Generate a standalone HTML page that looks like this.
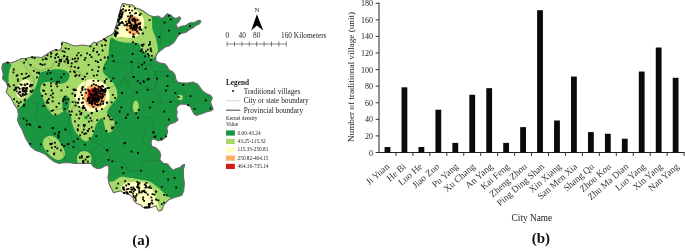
<!DOCTYPE html><html><head><meta charset="utf-8"><style>
html,body{margin:0;padding:0;background:#fff}
#w{position:relative;width:685px;height:251px;overflow:hidden;background:#fff;font-family:"Liberation Serif",serif;color:#222}
.t,.yl,.cl{filter:grayscale(1)}
.t{position:absolute;white-space:nowrap;line-height:1}
.yl{position:absolute;font-size:8px;line-height:1;width:20px;text-align:right;left:353.1px}
.cl{position:absolute;font-size:9.4px;line-height:1;white-space:nowrap;transform-origin:100% 50%;transform:rotate(-41deg);text-align:right;color:#333}
</style></head><body><div id="w">
<svg width="685" height="251" viewBox="0 0 685 251" style="position:absolute;left:0;top:0">
<defs><clipPath id="c"><path d="M2.6,63.9 L7.0,62.1 L10.5,63.0 L15.8,61.3 L21.0,58.6 L26.3,58.4 L31.6,56.7 L36.8,57.0 L42.0,57.5 L45.6,55.0 L51.0,51.4 L56.0,49.6 L58.8,50.5 L61.4,48.8 L61.8,42.1 L65.8,42.6 L70.0,44.4 L75.0,46.0 L82.5,45.0 L90.0,46.0 L93.7,42.1 L96.3,43.0 L99.0,41.8 L103.3,39.5 L107.7,36.5 L111.2,35.0 L113.9,32.5 L115.3,28.0 L117.0,22.8 L118.2,17.5 L120.0,12.3 L120.9,7.0 L122.6,3.2 L127.9,4.4 L132.3,4.9 L135.8,7.9 L140.2,9.2 L145.0,12.3 L149.6,15.6 L154.0,16.7 L158.4,16.1 L161.9,18.4 L164.6,16.7 L167.2,13.7 L170.7,14.9 L173.3,17.5 L176.0,18.4 L179.5,16.7 L180.7,18.4 L178.6,21.9 L176.0,24.6 L177.7,28.1 L181.2,26.3 L185.6,25.4 L190.0,22.8 L194.4,22.5 L198.8,20.2 L201.0,21.0 L199.6,23.7 L196.1,25.4 L192.6,28.0 L189.1,29.8 L185.6,32.5 L182.1,33.3 L179.5,34.2 L176.8,37.7 L174.2,42.1 L172.5,43.5 L168.9,46.1 L165.4,47.0 L161.9,49.6 L157.5,53.2 L155.8,56.7 L155.8,61.0 L159.3,62.8 L164.6,63.7 L167.2,66.3 L168.9,69.8 L172.5,71.6 L175.1,75.1 L176.0,79.5 L177.7,82.1 L181.6,82.7 L187.7,83.0 L193.0,82.1 L197.4,83.9 L200.0,87.4 L202.6,90.9 L206.1,93.5 L210.5,95.3 L212.3,97.9 L210.5,102.3 L212.3,106.7 L213.2,109.3 L210.5,111.1 L206.1,112.0 L201.8,113.7 L196.5,115.5 L193.9,113.7 L192.1,110.2 L190.4,106.7 L187.7,105.0 L184.2,104.1 L180.7,104.1 L178.1,105.8 L176.3,108.5 L177.2,112.0 L176.5,116.4 L178.2,119.9 L174.7,122.5 L169.5,124.3 L166.8,127.8 L167.7,132.2 L166.0,136.6 L162.5,140.0 L158.1,140.9 L154.6,139.2 L151.9,139.2 L151.1,142.7 L151.9,146.2 L156.3,148.0 L159.8,151.5 L160.7,155.3 L159.8,159.6 L163.3,163.2 L167.7,164.0 L170.4,167.5 L173.0,170.2 L176.5,168.4 L180.0,167.5 L182.6,164.9 L184.7,164.4 L183.5,169.3 L183.5,176.3 L184.4,183.3 L183.7,190.9 L181.9,195.3 L177.5,196.7 L173.2,197.9 L168.8,199.7 L166.1,202.3 L163.5,205.8 L161.8,210.2 L159.1,211.1 L157.4,209.3 L156.5,205.8 L153.0,206.7 L147.7,208.5 L143.3,207.6 L140.7,204.9 L136.3,203.2 L133.7,200.6 L132.8,197.1 L129.3,194.4 L124.9,193.5 L120.5,190.9 L117.0,191.8 L113.5,192.7 L111.8,189.2 L110.5,187.2 L108.8,182.8 L107.9,177.6 L108.8,172.3 L108.8,166.2 L106.1,165.3 L101.8,167.9 L97.4,168.8 L93.9,167.1 L91.2,163.5 L86.0,163.2 L80.7,163.5 L74.6,163.5 L69.3,162.7 L64.0,162.7 L58.8,163.5 L54.4,161.8 L50.0,158.5 L45.6,154.6 L40.4,152.0 L35.1,150.2 L30.7,146.7 L28.1,142.3 L25.4,137.9 L23.7,133.5 L21.9,129.2 L19.3,124.8 L17.5,120.4 L18.4,114.6 L17.5,109.3 L14.0,104.1 L11.4,98.8 L8.8,95.5 L6.1,92.0 L7.9,86.7 L6.1,82.3 L2.6,78.8 L3.2,73.5 L1.8,68.3Z"/></clipPath></defs>
<g clip-path="url(#c)">
<rect x="0" y="0" width="230" height="215" fill="#1a9641"/>
<path d="M-5.0,40.0 C5.8,26.7 40.8,33.3 60.0,30.0 C79.2,26.7 100.3,25.0 110.0,20.0 C119.7,15.0 113.8,3.8 118.0,0.0 C122.2,-3.8 129.7,-5.0 135.0,-3.0 C140.3,-1.0 147.1,6.6 150.0,12.0 C152.9,17.4 151.7,25.4 152.6,29.5 C153.5,33.6 154.6,34.2 155.3,36.5 C156.0,38.8 156.6,41.1 157.0,43.5 C157.4,45.9 158.1,48.7 157.9,50.6 C157.8,52.5 157.0,53.7 156.1,55.0 C155.2,56.3 153.6,58.2 152.6,58.5 C151.6,58.8 151.3,57.7 150.0,56.7 C148.7,55.7 146.2,53.6 144.7,52.3 C143.2,51.0 142.1,50.2 141.2,48.8 C140.3,47.4 140.5,45.0 139.5,44.0 C138.5,43.0 137.2,42.9 135.0,42.7 C132.8,42.5 129.2,43.0 126.3,42.7 C123.4,42.4 120.0,41.8 117.5,41.0 C115.0,40.2 112.4,36.7 111.0,38.0 C109.6,39.3 109.5,45.6 109.0,48.8 C108.5,52.0 108.8,54.3 108.0,57.0 C107.2,59.7 104.8,62.3 104.0,64.8 C103.2,67.3 102.4,69.8 103.0,71.8 C103.6,73.8 105.8,75.2 107.4,77.0 C109.0,78.8 111.1,80.2 112.6,82.3 C114.1,84.3 115.8,86.8 116.5,89.3 C117.2,91.8 117.6,95.2 117.0,97.5 C116.4,99.8 114.3,101.2 113.0,103.0 C111.7,104.8 110.0,106.3 109.0,108.0 C108.0,109.7 106.8,111.7 107.0,113.0 C107.2,114.3 108.8,114.7 110.0,116.0 C111.2,117.3 113.3,119.0 114.0,121.0 C114.7,123.0 114.7,126.1 114.0,128.0 C113.3,129.9 111.3,132.0 110.0,132.5 C108.7,133.0 106.9,132.2 106.0,131.0 C105.1,129.8 105.0,127.1 104.4,125.0 C103.8,122.9 103.3,119.4 102.6,118.4 C101.9,117.5 101.1,118.3 100.0,119.3 C98.9,120.3 96.9,123.0 96.0,124.6 C95.1,126.2 95.2,127.4 94.7,129.0 C94.2,130.6 93.9,132.4 93.0,134.2 C92.1,135.9 90.8,138.3 89.5,139.5 C88.2,140.7 86.5,141.5 85.0,141.2 C83.5,140.9 82.3,139.3 80.7,137.7 C79.1,136.1 76.9,134.1 75.4,131.6 C74.0,129.1 72.9,125.7 72.0,122.8 C71.1,119.9 71.7,115.8 70.2,114.0 C68.7,112.2 65.5,111.8 63.2,112.0 C60.9,112.2 58.2,115.2 56.1,115.5 C54.0,115.8 52.8,114.3 50.9,113.7 C49.0,113.1 48.5,112.3 45.0,112.0 C41.5,111.7 35.8,112.0 30.0,112.0 C24.2,112.0 15.8,112.3 10.0,112.0 C4.2,111.7 -2.5,122.0 -5.0,110.0 C-7.5,98.0 -15.8,53.3 -5.0,40.0Z" fill="#a6d96a"/>
<path d="M40.2,72.7 C41.5,71.5 43.8,71.5 46.3,70.9 C48.8,70.3 52.0,69.4 55.0,69.2 C58.0,69.0 61.6,69.3 64.0,70.0 C66.3,70.7 68.2,72.2 69.1,73.5 C69.9,74.8 69.7,76.5 69.1,78.0 C68.5,79.5 67.3,81.3 65.6,82.3 C63.8,83.3 60.9,84.0 58.6,84.0 C56.3,84.0 53.9,82.6 51.6,82.3 C49.3,82.0 46.4,81.7 44.6,82.3 C42.8,82.9 41.7,84.3 41.0,85.8 C40.3,87.2 40.2,89.7 40.2,91.0 C40.2,92.3 40.6,91.9 41.2,93.5 C41.8,95.1 42.9,98.1 43.9,100.6 C44.9,103.1 46.2,106.3 47.4,108.5 C48.6,110.7 51.3,111.0 50.9,113.7 C50.5,116.5 51.8,123.1 45.0,125.0 C38.2,126.9 15.2,127.8 10.0,125.0 C4.8,122.2 12.8,110.6 14.0,108.0 C15.2,105.4 15.4,110.5 17.5,109.3 C19.6,108.1 23.8,103.2 26.3,100.6 C28.8,98.0 30.8,96.3 32.5,93.5 C34.2,90.7 35.7,86.6 36.7,84.0 C37.7,81.4 37.9,79.9 38.5,78.0 C39.1,76.1 38.9,73.9 40.2,72.7Z" fill="#1a9641"/>
<path d="M66.0,95.3 C66.9,95.5 68.2,96.5 68.8,98.0 C69.3,99.5 69.4,102.0 69.3,104.0 C69.2,106.0 68.9,108.5 68.0,110.0 C67.1,111.5 64.9,113.3 64.0,113.0 C63.1,112.7 62.8,110.2 62.5,108.0 C62.2,105.8 62.1,101.9 62.3,100.0 C62.5,98.1 62.9,97.3 63.5,96.5 C64.1,95.7 65.1,95.0 66.0,95.3Z" fill="#1a9641"/>
<path d="M-2.0,60.0 C0.1,56.6 8.6,61.8 10.5,63.5 C12.4,65.2 9.8,67.9 9.5,70.0 C9.2,72.1 8.7,74.0 8.5,76.0 C8.3,78.0 8.9,80.7 8.5,82.0 C8.1,83.3 7.8,83.7 6.0,84.0 C4.2,84.3 -0.7,88.0 -2.0,84.0 C-3.3,80.0 -4.1,63.4 -2.0,60.0Z" fill="#1a9641"/>
<path d="M86.0,115.5 C86.7,115.5 88.0,116.8 88.0,117.5 C88.0,118.2 86.7,119.5 86.0,119.5 C85.3,119.5 84.0,118.2 84.0,117.5 C84.0,116.8 85.3,115.5 86.0,115.5Z" fill="#1a9641"/>
<path d="M113.5,181.3 C116.1,180.0 117.9,177.5 120.5,176.9 C123.1,176.3 126.1,177.4 129.3,177.8 C132.5,178.2 136.6,178.9 139.8,179.5 C143.0,180.1 146.0,180.3 148.6,181.3 C151.2,182.3 153.3,183.8 155.6,185.6 C157.9,187.3 160.6,190.0 162.6,191.8 C164.6,193.6 166.2,195.2 167.5,196.5 C168.8,197.8 170.8,196.4 170.5,199.5 C170.2,202.6 176.9,212.4 166.0,215.0 C155.1,217.6 115.2,220.0 105.0,215.0 C94.8,210.0 103.6,190.6 105.0,185.0 C106.4,179.4 110.9,182.7 113.5,181.3Z" fill="#a6d96a"/>
<path d="M122.4,185.6 C123.5,184.4 125.9,183.2 128.0,182.6 C130.1,182.0 132.3,181.9 135.0,181.9 C137.7,181.9 141.5,182.1 143.9,182.6 C146.3,183.1 147.9,183.3 149.5,184.8 C151.1,186.3 152.5,189.8 153.5,191.8 C154.5,193.8 154.9,195.2 155.6,197.0 C156.2,198.8 157.2,199.8 157.4,202.3 C157.6,204.8 161.6,210.4 157.0,212.0 C152.4,213.6 135.4,214.5 130.0,212.0 C124.6,209.5 126.0,200.7 124.5,197.0 C123.0,193.3 121.6,191.9 121.3,190.0 C121.0,188.1 121.3,186.8 122.4,185.6Z" fill="#ffffc0"/>
<path d="M43.5,140.0 C44.2,138.6 45.6,137.2 47.0,136.5 C48.4,135.8 50.3,135.6 52.0,136.0 C53.7,136.4 55.3,137.3 57.0,139.0 C58.7,140.7 60.7,143.7 62.0,146.0 C63.3,148.3 64.8,151.0 65.0,153.0 C65.2,155.0 64.2,156.8 63.0,158.0 C61.8,159.2 59.8,160.2 58.0,160.0 C56.2,159.8 54.0,158.5 52.0,157.0 C50.0,155.5 47.5,153.0 46.0,151.0 C44.5,149.0 43.4,146.8 43.0,145.0 C42.6,143.2 42.8,141.4 43.5,140.0Z" fill="#a6d96a"/>
<ellipse cx="84.2" cy="159" rx="7.3" ry="8" fill="#a6d96a"/>
<ellipse cx="135.8" cy="106.8" rx="3" ry="6.2" fill="#a6d96a"/>
<circle cx="180.2" cy="97.4" r="2.6" fill="#a6d96a"/>
<ellipse cx="23.3" cy="88.8" rx="6.3" ry="10.2" fill="#ffffc0" transform="rotate(25 23.3 88.8)"/>
<ellipse cx="92.5" cy="95.5" rx="17.2" ry="16.3" fill="#ffffc0"/>
<ellipse cx="94.8" cy="96.2" rx="11" ry="12" fill="#fdae61"/>
<ellipse cx="94.4" cy="95.3" rx="6.8" ry="7.6" fill="#d7191c"/>
<path d="M115.0,36.0 C114.1,33.5 115.8,26.7 116.5,22.0 C117.2,17.3 118.2,10.7 119.5,8.0 C120.8,5.3 122.2,6.1 124.0,5.8 C125.8,5.5 128.3,5.7 130.0,6.2 C131.7,6.7 132.7,7.4 134.3,8.6 C135.9,9.8 138.2,11.7 139.6,13.2 C141.0,14.7 142.2,15.9 143.0,17.5 C143.8,19.1 144.1,20.7 144.1,22.5 C144.1,24.3 143.6,26.7 143.0,28.5 C142.4,30.3 141.5,31.9 140.3,33.3 C139.1,34.7 137.7,36.0 135.8,36.8 C133.9,37.6 131.3,37.9 129.0,37.9 C126.7,37.9 124.3,37.1 122.0,36.8 C119.7,36.5 115.9,38.5 115.0,36.0Z" fill="#ffffc0"/>
<ellipse cx="133.4" cy="25.4" rx="7.9" ry="9.6" fill="#fdae61"/>
<path d="M110.0,87.6 L119.6,84.4 L124.4,76.4 L132.3,70.0" fill="none" stroke="#2c4a2c" stroke-opacity="0.6" stroke-width="0.45" stroke-linejoin="round"/>
<path d="M124.4,76.4 L129.2,87.6 L133.9,92.3 L132.3,100.3 L130.7,111.5 L124.4,117.9 L116.4,124.3 L110.0,125.9" fill="none" stroke="#2c4a2c" stroke-opacity="0.6" stroke-width="0.45" stroke-linejoin="round"/>
<path d="M133.9,92.3 L145.1,87.6 L154.7,89.2 L157.9,78.0 L154.7,70.0" fill="none" stroke="#2c4a2c" stroke-opacity="0.6" stroke-width="0.45" stroke-linejoin="round"/>
<path d="M154.7,89.2 L161.1,98.7 L159.5,101.9 L165.9,103.5 L173.8,100.3 L178.6,101.9 L177.0,109.9" fill="none" stroke="#2c4a2c" stroke-opacity="0.6" stroke-width="0.45" stroke-linejoin="round"/>
<path d="M157.9,78.0 L167.5,73.2 L177.0,84.4 L185.0,82.8 L191.4,86.0" fill="none" stroke="#2c4a2c" stroke-opacity="0.6" stroke-width="0.45" stroke-linejoin="round"/>
<path d="M132.3,111.5 L138.7,116.3 L151.5,117.9 L154.7,130.6 L151.5,138.6 L157.9,141.8" fill="none" stroke="#2c4a2c" stroke-opacity="0.6" stroke-width="0.45" stroke-linejoin="round"/>
<path d="M90.0,139.6 L99.6,144.4 L106.0,149.2 L112.3,160.3 L121.9,161.9 L129.9,171.5 L141.1,169.9 L145.9,160.3 L160.2,160.3 L173.0,169.9 L182.6,165.1" fill="none" stroke="#2c4a2c" stroke-opacity="0.6" stroke-width="0.45" stroke-linejoin="round"/>
<path d="M145.9,130.0 L142.7,139.6 L147.5,146.0 L158.6,149.2 L161.8,160.3" fill="none" stroke="#2c4a2c" stroke-opacity="0.6" stroke-width="0.45" stroke-linejoin="round"/>
<path d="M110.5,40.0 L111.4,48.8 L113.2,57.5 L114.9,61.9 L124.6,62.8 L133.3,61.9 L141.2,64.6 L150.9,65.4 L152.6,57.5 L156.1,53.2" fill="none" stroke="#2c4a2c" stroke-opacity="0.6" stroke-width="0.45" stroke-linejoin="round"/>
<path d="M133.3,61.9 L131.6,68.1 L132.5,75.1 L129.8,79.5 L122.8,83.0" fill="none" stroke="#2c4a2c" stroke-opacity="0.6" stroke-width="0.45" stroke-linejoin="round"/>
<path d="M150.9,65.4 L154.4,71.6 L156.1,77.7 L157.0,84.0" fill="none" stroke="#2c4a2c" stroke-opacity="0.6" stroke-width="0.45" stroke-linejoin="round"/>
<path d="M154.4,71.6 L164.9,71.6 L171.9,69.8 L175.4,75.1" fill="none" stroke="#2c4a2c" stroke-opacity="0.6" stroke-width="0.45" stroke-linejoin="round"/>
<path d="M113.2,57.5 L105.3,64.6 L103.5,68.9" fill="none" stroke="#2c4a2c" stroke-opacity="0.6" stroke-width="0.45" stroke-linejoin="round"/>
<path d="M162.8,17.5 L161.4,29.8 L160.2,44.0" fill="none" stroke="#2c4a2c" stroke-opacity="0.6" stroke-width="0.45" stroke-linejoin="round"/>
<path d="M27.5,100.4 L38.1,103.9 L47.7,106.5 L50.4,110.9 L62.6,108.3 L66.1,103.0 L73.2,101.3" fill="none" stroke="#2c4a2c" stroke-opacity="0.6" stroke-width="0.45" stroke-linejoin="round"/>
<path d="M26.3,58.4 L29.8,66.3 L40.4,70.7 L52.6,67.2 L57.9,50.5" fill="none" stroke="#2c4a2c" stroke-opacity="0.6" stroke-width="0.45" stroke-linejoin="round"/>
<path d="M61.5,56.0 L66.0,64.0 L72.0,70.0 L80.0,72.0 L86.0,80.0 L84.0,88.0" fill="none" stroke="#2c4a2c" stroke-opacity="0.6" stroke-width="0.45" stroke-linejoin="round"/>
<path d="M84.0,88.0 L78.0,100.0 L70.0,112.0 L68.0,125.0 L72.0,140.0 L80.0,150.0 L92.0,152.0 L99.6,144.4" fill="none" stroke="#2c4a2c" stroke-opacity="0.6" stroke-width="0.45" stroke-linejoin="round"/>
<path d="M38.0,103.9 L36.0,115.0 L40.0,128.0 L50.0,140.0 L62.0,150.0 L66.0,162.0" fill="none" stroke="#2c4a2c" stroke-opacity="0.6" stroke-width="0.45" stroke-linejoin="round"/>
<path d="M92.0,152.0 L95.0,160.0 L94.0,167.0" fill="none" stroke="#2c4a2c" stroke-opacity="0.6" stroke-width="0.45" stroke-linejoin="round"/>
<path d="M20.0,59.0 L26.0,68.0 L34.0,78.0 L33.0,90.0 L27.5,100.4" fill="none" stroke="#2c4a2c" stroke-opacity="0.6" stroke-width="0.45" stroke-linejoin="round"/>
</g>
<path d="M2.6,63.9 L7.0,62.1 L10.5,63.0 L15.8,61.3 L21.0,58.6 L26.3,58.4 L31.6,56.7 L36.8,57.0 L42.0,57.5 L45.6,55.0 L51.0,51.4 L56.0,49.6 L58.8,50.5 L61.4,48.8 L61.8,42.1 L65.8,42.6 L70.0,44.4 L75.0,46.0 L82.5,45.0 L90.0,46.0 L93.7,42.1 L96.3,43.0 L99.0,41.8 L103.3,39.5 L107.7,36.5 L111.2,35.0 L113.9,32.5 L115.3,28.0 L117.0,22.8 L118.2,17.5 L120.0,12.3 L120.9,7.0 L122.6,3.2 L127.9,4.4 L132.3,4.9 L135.8,7.9 L140.2,9.2 L145.0,12.3 L149.6,15.6 L154.0,16.7 L158.4,16.1 L161.9,18.4 L164.6,16.7 L167.2,13.7 L170.7,14.9 L173.3,17.5 L176.0,18.4 L179.5,16.7 L180.7,18.4 L178.6,21.9 L176.0,24.6 L177.7,28.1 L181.2,26.3 L185.6,25.4 L190.0,22.8 L194.4,22.5 L198.8,20.2 L201.0,21.0 L199.6,23.7 L196.1,25.4 L192.6,28.0 L189.1,29.8 L185.6,32.5 L182.1,33.3 L179.5,34.2 L176.8,37.7 L174.2,42.1 L172.5,43.5 L168.9,46.1 L165.4,47.0 L161.9,49.6 L157.5,53.2 L155.8,56.7 L155.8,61.0 L159.3,62.8 L164.6,63.7 L167.2,66.3 L168.9,69.8 L172.5,71.6 L175.1,75.1 L176.0,79.5 L177.7,82.1 L181.6,82.7 L187.7,83.0 L193.0,82.1 L197.4,83.9 L200.0,87.4 L202.6,90.9 L206.1,93.5 L210.5,95.3 L212.3,97.9 L210.5,102.3 L212.3,106.7 L213.2,109.3 L210.5,111.1 L206.1,112.0 L201.8,113.7 L196.5,115.5 L193.9,113.7 L192.1,110.2 L190.4,106.7 L187.7,105.0 L184.2,104.1 L180.7,104.1 L178.1,105.8 L176.3,108.5 L177.2,112.0 L176.5,116.4 L178.2,119.9 L174.7,122.5 L169.5,124.3 L166.8,127.8 L167.7,132.2 L166.0,136.6 L162.5,140.0 L158.1,140.9 L154.6,139.2 L151.9,139.2 L151.1,142.7 L151.9,146.2 L156.3,148.0 L159.8,151.5 L160.7,155.3 L159.8,159.6 L163.3,163.2 L167.7,164.0 L170.4,167.5 L173.0,170.2 L176.5,168.4 L180.0,167.5 L182.6,164.9 L184.7,164.4 L183.5,169.3 L183.5,176.3 L184.4,183.3 L183.7,190.9 L181.9,195.3 L177.5,196.7 L173.2,197.9 L168.8,199.7 L166.1,202.3 L163.5,205.8 L161.8,210.2 L159.1,211.1 L157.4,209.3 L156.5,205.8 L153.0,206.7 L147.7,208.5 L143.3,207.6 L140.7,204.9 L136.3,203.2 L133.7,200.6 L132.8,197.1 L129.3,194.4 L124.9,193.5 L120.5,190.9 L117.0,191.8 L113.5,192.7 L111.8,189.2 L110.5,187.2 L108.8,182.8 L107.9,177.6 L108.8,172.3 L108.8,166.2 L106.1,165.3 L101.8,167.9 L97.4,168.8 L93.9,167.1 L91.2,163.5 L86.0,163.2 L80.7,163.5 L74.6,163.5 L69.3,162.7 L64.0,162.7 L58.8,163.5 L54.4,161.8 L50.0,158.5 L45.6,154.6 L40.4,152.0 L35.1,150.2 L30.7,146.7 L28.1,142.3 L25.4,137.9 L23.7,133.5 L21.9,129.2 L19.3,124.8 L17.5,120.4 L18.4,114.6 L17.5,109.3 L14.0,104.1 L11.4,98.8 L8.8,95.5 L6.1,92.0 L7.9,86.7 L6.1,82.3 L2.6,78.8 L3.2,73.5 L1.8,68.3Z" fill="none" stroke="#6a6a6a" stroke-width="1.05" stroke-linejoin="round"/>
<path d="M89.8,94.3h1.8v1.8h-1.8zM93.8,87.9h1.8v1.8h-1.8zM95.1,92.3h1.8v1.8h-1.8zM89.5,102.0h1.8v1.8h-1.8zM88.4,101.7h1.8v1.8h-1.8zM98.1,98.2h1.8v1.8h-1.8zM87.6,98.5h1.8v1.8h-1.8zM102.3,95.6h1.8v1.8h-1.8zM96.0,91.9h1.8v1.8h-1.8zM99.1,86.0h1.8v1.8h-1.8zM96.2,100.1h1.8v1.8h-1.8zM92.0,100.4h1.8v1.8h-1.8zM96.7,90.6h1.8v1.8h-1.8zM92.2,89.6h1.8v1.8h-1.8zM97.8,90.3h1.8v1.8h-1.8zM94.0,98.1h1.8v1.8h-1.8zM93.2,93.3h1.8v1.8h-1.8zM102.2,90.5h1.8v1.8h-1.8zM92.9,99.3h1.8v1.8h-1.8zM100.0,96.8h1.8v1.8h-1.8zM97.2,88.3h1.8v1.8h-1.8zM97.3,97.7h1.8v1.8h-1.8zM90.7,100.2h1.8v1.8h-1.8zM90.8,103.7h1.8v1.8h-1.8zM100.5,90.0h1.8v1.8h-1.8zM99.6,85.9h1.8v1.8h-1.8zM99.7,91.4h1.8v1.8h-1.8zM96.6,92.3h1.8v1.8h-1.8zM97.2,95.9h1.8v1.8h-1.8zM91.4,103.6h1.8v1.8h-1.8zM98.5,86.6h1.8v1.8h-1.8zM95.9,97.5h1.8v1.8h-1.8zM88.5,102.2h1.8v1.8h-1.8zM87.9,98.6h1.8v1.8h-1.8zM98.0,99.1h1.8v1.8h-1.8zM89.2,101.1h1.8v1.8h-1.8zM100.5,96.4h1.8v1.8h-1.8zM104.2,91.5h1.8v1.8h-1.8zM91.8,97.3h1.8v1.8h-1.8zM97.7,99.8h1.8v1.8h-1.8zM88.5,97.6h1.8v1.8h-1.8zM91.8,98.7h1.8v1.8h-1.8zM94.8,90.5h1.8v1.8h-1.8zM94.6,97.0h1.8v1.8h-1.8zM104.5,87.7h1.8v1.8h-1.8zM97.3,94.8h1.8v1.8h-1.8zM94.0,87.3h1.8v1.8h-1.8zM104.6,89.4h1.8v1.8h-1.8zM104.4,89.9h1.8v1.8h-1.8zM93.3,95.2h1.8v1.8h-1.8zM91.4,102.2h1.8v1.8h-1.8zM88.2,96.4h1.8v1.8h-1.8zM89.1,93.2h1.8v1.8h-1.8zM88.7,100.0h1.8v1.8h-1.8zM94.1,89.2h1.8v1.8h-1.8zM90.7,97.2h1.8v1.8h-1.8zM90.1,93.4h1.8v1.8h-1.8zM95.2,94.6h1.8v1.8h-1.8zM91.2,94.9h1.8v1.8h-1.8zM97.4,85.5h1.8v1.8h-1.8zM92.8,90.7h1.8v1.8h-1.8zM91.8,89.4h1.8v1.8h-1.8zM101.1,97.6h1.8v1.8h-1.8zM103.2,89.3h1.8v1.8h-1.8zM91.0,97.2h1.8v1.8h-1.8zM93.7,102.3h1.8v1.8h-1.8zM99.2,95.8h1.8v1.8h-1.8zM90.6,94.8h1.8v1.8h-1.8zM104.2,90.4h1.8v1.8h-1.8zM103.0,90.5h1.8v1.8h-1.8zM92.1,99.1h1.8v1.8h-1.8zM89.1,92.7h1.8v1.8h-1.8zM94.3,100.0h1.8v1.8h-1.8zM102.1,85.6h1.8v1.8h-1.8zM101.2,84.9h1.8v1.8h-1.8zM89.1,96.8h1.8v1.8h-1.8zM88.5,97.0h1.8v1.8h-1.8zM101.7,95.2h1.8v1.8h-1.8zM100.7,87.9h1.8v1.8h-1.8zM101.2,93.9h1.8v1.8h-1.8zM91.4,102.8h1.8v1.8h-1.8zM104.8,89.2h1.8v1.8h-1.8zM99.4,89.5h1.8v1.8h-1.8zM94.1,102.2h1.8v1.8h-1.8zM91.6,100.6h1.8v1.8h-1.8zM100.0,92.8h1.8v1.8h-1.8zM86.7,99.9h1.8v1.8h-1.8zM95.2,90.9h1.8v1.8h-1.8zM97.4,95.4h1.8v1.8h-1.8zM102.3,89.0h1.8v1.8h-1.8zM100.7,100.3h1.8v1.8h-1.8zM102.1,92.8h1.8v1.8h-1.8zM92.3,98.2h1.8v1.8h-1.8zM96.1,94.2h1.8v1.8h-1.8zM102.0,92.4h1.8v1.8h-1.8zM85.3,91.9h1.8v1.8h-1.8zM87.3,97.3h1.8v1.8h-1.8zM97.0,90.8h1.8v1.8h-1.8zM95.6,97.3h1.8v1.8h-1.8zM96.0,99.6h1.8v1.8h-1.8zM95.3,98.3h1.8v1.8h-1.8zM102.3,100.8h1.8v1.8h-1.8zM92.6,97.6h1.8v1.8h-1.8zM87.2,88.7h1.8v1.8h-1.8zM86.8,98.4h1.8v1.8h-1.8zM90.1,93.5h1.8v1.8h-1.8zM94.7,93.5h1.8v1.8h-1.8zM92.9,94.7h1.8v1.8h-1.8zM103.7,93.8h1.8v1.8h-1.8zM98.0,98.1h1.8v1.8h-1.8zM94.7,87.9h1.8v1.8h-1.8zM93.1,98.4h1.8v1.8h-1.8zM73.0,89.1h1.8v1.8h-1.8zM102.2,103.0h1.8v1.8h-1.8zM91.2,103.2h1.8v1.8h-1.8zM92.9,83.3h1.8v1.8h-1.8zM73.9,88.7h1.8v1.8h-1.8zM101.3,89.4h1.8v1.8h-1.8zM81.2,87.4h1.8v1.8h-1.8zM74.3,93.9h1.8v1.8h-1.8zM78.1,98.7h1.8v1.8h-1.8zM65.1,98.4h1.8v1.8h-1.8zM84.0,75.7h1.8v1.8h-1.8zM99.1,92.3h1.8v1.8h-1.8zM66.6,86.3h1.8v1.8h-1.8zM94.3,90.5h1.8v1.8h-1.8zM99.7,102.6h1.8v1.8h-1.8zM98.4,98.4h1.8v1.8h-1.8zM105.8,101.7h1.8v1.8h-1.8zM96.1,74.3h1.8v1.8h-1.8zM101.0,108.2h1.8v1.8h-1.8zM87.8,90.4h1.8v1.8h-1.8zM112.4,77.5h1.8v1.8h-1.8zM96.3,119.3h1.8v1.8h-1.8zM80.9,102.0h1.8v1.8h-1.8zM111.9,93.9h1.8v1.8h-1.8zM97.3,104.1h1.8v1.8h-1.8zM81.1,94.2h1.8v1.8h-1.8zM94.3,103.4h1.8v1.8h-1.8zM90.7,93.1h1.8v1.8h-1.8zM79.9,91.5h1.8v1.8h-1.8zM100.9,96.1h1.8v1.8h-1.8zM81.7,86.7h1.8v1.8h-1.8zM120.4,106.5h1.8v1.8h-1.8zM135.2,12.2h1.8v1.8h-1.8zM135.1,26.3h1.8v1.8h-1.8zM139.0,26.1h1.8v1.8h-1.8zM132.7,26.5h1.8v1.8h-1.8zM125.9,28.9h1.8v1.8h-1.8zM134.1,20.9h1.8v1.8h-1.8zM137.7,32.4h1.8v1.8h-1.8zM127.9,21.0h1.8v1.8h-1.8zM133.9,24.9h1.8v1.8h-1.8zM131.5,19.6h1.8v1.8h-1.8zM140.5,28.9h1.8v1.8h-1.8zM128.6,17.9h1.8v1.8h-1.8zM139.0,28.7h1.8v1.8h-1.8zM139.5,27.8h1.8v1.8h-1.8zM129.8,25.3h1.8v1.8h-1.8zM125.1,20.7h1.8v1.8h-1.8zM132.7,26.5h1.8v1.8h-1.8zM130.3,23.5h1.8v1.8h-1.8zM134.6,25.8h1.8v1.8h-1.8zM135.2,25.1h1.8v1.8h-1.8zM131.7,27.7h1.8v1.8h-1.8zM133.1,20.3h1.8v1.8h-1.8zM130.6,24.1h1.8v1.8h-1.8zM132.5,24.8h1.8v1.8h-1.8zM132.9,24.9h1.8v1.8h-1.8zM132.4,18.3h1.8v1.8h-1.8zM134.4,28.9h1.8v1.8h-1.8zM134.5,23.2h1.8v1.8h-1.8zM134.5,19.7h1.8v1.8h-1.8zM126.1,24.4h1.8v1.8h-1.8zM129.6,27.5h1.8v1.8h-1.8zM129.0,12.0h1.8v1.8h-1.8zM129.2,31.4h1.8v1.8h-1.8zM131.5,17.8h1.8v1.8h-1.8zM130.2,26.5h1.8v1.8h-1.8zM134.7,24.9h1.8v1.8h-1.8zM138.2,27.3h1.8v1.8h-1.8zM132.8,26.8h1.8v1.8h-1.8zM138.9,28.6h1.8v1.8h-1.8zM136.6,19.1h1.8v1.8h-1.8zM132.4,27.5h1.8v1.8h-1.8zM131.8,29.0h1.8v1.8h-1.8zM135.0,28.3h1.8v1.8h-1.8zM132.1,35.8h1.8v1.8h-1.8zM137.4,23.1h1.8v1.8h-1.8zM133.2,36.0h1.8v1.8h-1.8zM131.7,28.1h1.8v1.8h-1.8zM136.4,24.1h1.8v1.8h-1.8zM128.7,25.0h1.8v1.8h-1.8zM134.2,29.3h1.8v1.8h-1.8zM135.7,24.2h1.8v1.8h-1.8zM136.0,26.6h1.8v1.8h-1.8zM133.6,24.4h1.8v1.8h-1.8zM132.0,27.3h1.8v1.8h-1.8zM129.1,21.2h1.8v1.8h-1.8zM132.9,17.4h1.8v1.8h-1.8zM131.3,14.9h1.8v1.8h-1.8zM130.4,26.7h1.8v1.8h-1.8zM134.6,21.6h1.8v1.8h-1.8zM128.2,9.3h1.8v1.8h-1.8zM144.7,26.7h1.8v1.8h-1.8zM138.8,14.2h1.8v1.8h-1.8zM128.6,5.7h1.8v1.8h-1.8zM136.3,30.5h1.8v1.8h-1.8zM125.1,9.5h1.8v1.8h-1.8zM130.4,24.3h1.8v1.8h-1.8zM135.2,28.4h1.8v1.8h-1.8zM142.1,32.6h1.8v1.8h-1.8zM119.6,17.6h1.8v1.8h-1.8zM121.6,12.4h1.8v1.8h-1.8zM129.4,22.1h1.8v1.8h-1.8zM134.0,7.8h1.8v1.8h-1.8zM120.2,21.9h1.8v1.8h-1.8zM128.5,19.3h1.8v1.8h-1.8zM129.6,15.3h1.8v1.8h-1.8zM135.7,25.3h1.8v1.8h-1.8zM129.4,16.1h1.8v1.8h-1.8zM122.2,22.4h1.8v1.8h-1.8zM118.1,23.9h1.8v1.8h-1.8zM131.3,9.7h1.8v1.8h-1.8zM128.1,19.3h1.8v1.8h-1.8zM133.8,27.6h1.8v1.8h-1.8zM129.8,14.4h1.8v1.8h-1.8zM128.9,21.5h1.8v1.8h-1.8zM136.0,24.7h1.8v1.8h-1.8zM124.3,9.9h1.8v1.8h-1.8zM127.1,15.4h1.8v1.8h-1.8zM121.2,21.1h1.8v1.8h-1.8zM126.2,23.0h1.8v1.8h-1.8zM134.3,18.4h1.8v1.8h-1.8zM148.7,19.2h1.8v1.8h-1.8zM138.9,23.2h1.8v1.8h-1.8zM124.1,24.3h1.8v1.8h-1.8zM134.9,43.1h1.8v1.8h-1.8zM132.7,33.6h1.8v1.8h-1.8zM136.2,30.6h1.8v1.8h-1.8zM134.2,20.7h1.8v1.8h-1.8zM134.2,12.4h1.8v1.8h-1.8zM139.6,12.9h1.8v1.8h-1.8zM132.1,41.2h1.8v1.8h-1.8zM128.3,22.3h1.8v1.8h-1.8zM139.4,22.3h1.8v1.8h-1.8zM123.6,24.4h1.8v1.8h-1.8zM120.6,9.3h1.8v1.8h-1.8zM120.8,14.6h1.8v1.8h-1.8zM122.8,5.2h1.8v1.8h-1.8zM114.7,30.3h1.8v1.8h-1.8zM115.8,32.9h1.8v1.8h-1.8zM114.7,32.1h1.8v1.8h-1.8zM119.0,16.3h1.8v1.8h-1.8zM114.9,35.1h1.8v1.8h-1.8zM119.2,15.9h1.8v1.8h-1.8zM118.7,13.4h1.8v1.8h-1.8zM122.3,8.2h1.8v1.8h-1.8zM121.3,13.7h1.8v1.8h-1.8zM119.5,12.6h1.8v1.8h-1.8zM117.3,20.4h1.8v1.8h-1.8zM120.7,16.3h1.8v1.8h-1.8zM116.4,31.6h1.8v1.8h-1.8zM118.6,24.0h1.8v1.8h-1.8zM115.2,33.3h1.8v1.8h-1.8zM115.4,26.7h1.8v1.8h-1.8zM116.5,27.1h1.8v1.8h-1.8zM116.9,27.7h1.8v1.8h-1.8zM118.6,13.7h1.8v1.8h-1.8zM114.0,32.9h1.8v1.8h-1.8zM118.1,19.3h1.8v1.8h-1.8zM120.6,14.0h1.8v1.8h-1.8zM114.1,34.4h1.8v1.8h-1.8zM116.6,24.8h1.8v1.8h-1.8zM117.6,21.8h1.8v1.8h-1.8zM119.8,10.1h1.8v1.8h-1.8zM121.8,11.3h1.8v1.8h-1.8zM117.5,20.0h1.8v1.8h-1.8zM116.8,32.3h1.8v1.8h-1.8zM117.6,18.6h1.8v1.8h-1.8zM119.4,10.9h1.8v1.8h-1.8zM118.3,15.4h1.8v1.8h-1.8zM119.6,12.3h1.8v1.8h-1.8zM119.0,22.2h1.8v1.8h-1.8zM116.2,27.6h1.8v1.8h-1.8zM119.1,17.5h1.8v1.8h-1.8zM118.8,16.4h1.8v1.8h-1.8zM25.8,90.2h1.8v1.8h-1.8zM24.6,87.4h1.8v1.8h-1.8zM15.1,87.9h1.8v1.8h-1.8zM24.4,84.4h1.8v1.8h-1.8zM21.6,93.3h1.8v1.8h-1.8zM17.7,92.6h1.8v1.8h-1.8zM31.4,84.2h1.8v1.8h-1.8zM22.8,87.0h1.8v1.8h-1.8zM29.8,90.3h1.8v1.8h-1.8zM26.6,83.3h1.8v1.8h-1.8zM22.0,88.0h1.8v1.8h-1.8zM13.2,98.2h1.8v1.8h-1.8zM26.6,75.9h1.8v1.8h-1.8zM25.8,87.2h1.8v1.8h-1.8zM24.3,90.7h1.8v1.8h-1.8zM14.6,86.6h1.8v1.8h-1.8zM29.6,84.1h1.8v1.8h-1.8zM17.0,78.6h1.8v1.8h-1.8zM16.0,90.4h1.8v1.8h-1.8zM30.6,91.1h1.8v1.8h-1.8zM23.3,103.7h1.8v1.8h-1.8zM19.5,83.4h1.8v1.8h-1.8zM24.7,91.9h1.8v1.8h-1.8zM17.0,79.9h1.8v1.8h-1.8zM23.6,89.8h1.8v1.8h-1.8zM15.6,86.7h1.8v1.8h-1.8zM19.4,91.3h1.8v1.8h-1.8zM21.5,87.5h1.8v1.8h-1.8zM20.3,95.5h1.8v1.8h-1.8zM29.1,85.5h1.8v1.8h-1.8zM26.3,82.8h1.8v1.8h-1.8zM22.5,93.3h1.8v1.8h-1.8zM29.7,85.4h1.8v1.8h-1.8zM21.7,89.5h1.8v1.8h-1.8zM14.6,88.2h1.8v1.8h-1.8zM18.7,90.7h1.8v1.8h-1.8zM16.5,74.3h1.8v1.8h-1.8zM22.3,89.9h1.8v1.8h-1.8zM19.4,94.3h1.8v1.8h-1.8zM20.7,83.9h1.8v1.8h-1.8zM24.5,77.1h1.8v1.8h-1.8zM18.7,88.0h1.8v1.8h-1.8zM26.3,87.0h1.8v1.8h-1.8zM23.6,83.5h1.8v1.8h-1.8zM23.6,99.7h1.8v1.8h-1.8zM137.9,186.3h1.8v1.8h-1.8zM126.5,192.8h1.8v1.8h-1.8zM123.2,192.1h1.8v1.8h-1.8zM145.0,191.7h1.8v1.8h-1.8zM132.8,190.4h1.8v1.8h-1.8zM128.9,190.9h1.8v1.8h-1.8zM151.6,193.2h1.8v1.8h-1.8zM125.2,191.3h1.8v1.8h-1.8zM148.5,206.3h1.8v1.8h-1.8zM131.3,188.7h1.8v1.8h-1.8zM130.4,188.8h1.8v1.8h-1.8zM155.6,198.9h1.8v1.8h-1.8zM133.3,188.1h1.8v1.8h-1.8zM135.2,194.9h1.8v1.8h-1.8zM150.8,201.8h1.8v1.8h-1.8zM151.7,202.7h1.8v1.8h-1.8zM142.6,190.3h1.8v1.8h-1.8zM130.5,191.2h1.8v1.8h-1.8zM127.5,182.9h1.8v1.8h-1.8zM128.2,183.5h1.8v1.8h-1.8zM146.9,193.6h1.8v1.8h-1.8zM126.9,192.8h1.8v1.8h-1.8zM143.2,200.0h1.8v1.8h-1.8zM148.5,204.8h1.8v1.8h-1.8zM145.0,184.5h1.8v1.8h-1.8zM140.9,191.5h1.8v1.8h-1.8zM148.1,186.7h1.8v1.8h-1.8zM127.5,188.0h1.8v1.8h-1.8zM141.4,190.2h1.8v1.8h-1.8zM138.4,187.6h1.8v1.8h-1.8zM151.1,199.4h1.8v1.8h-1.8zM122.1,186.4h1.8v1.8h-1.8zM153.5,193.7h1.8v1.8h-1.8zM142.1,198.5h1.8v1.8h-1.8zM126.2,191.4h1.8v1.8h-1.8zM123.0,186.8h1.8v1.8h-1.8zM144.5,186.8h1.8v1.8h-1.8zM145.6,186.3h1.8v1.8h-1.8zM130.2,186.8h1.8v1.8h-1.8zM150.5,196.4h1.8v1.8h-1.8zM133.7,196.5h1.8v1.8h-1.8zM143.9,183.7h1.8v1.8h-1.8zM134.3,189.0h1.8v1.8h-1.8zM132.1,192.8h1.8v1.8h-1.8zM132.4,186.6h1.8v1.8h-1.8zM147.7,186.8h1.8v1.8h-1.8zM136.5,185.7h1.8v1.8h-1.8zM144.0,206.6h1.8v1.8h-1.8zM132.7,195.2h1.8v1.8h-1.8zM123.2,189.0h1.8v1.8h-1.8zM125.4,184.6h1.8v1.8h-1.8zM137.4,182.6h1.8v1.8h-1.8zM155.1,198.5h1.8v1.8h-1.8zM150.1,187.3h1.8v1.8h-1.8zM126.3,192.3h1.8v1.8h-1.8zM138.9,191.8h1.8v1.8h-1.8zM122.3,188.0h1.8v1.8h-1.8zM147.5,206.2h1.8v1.8h-1.8zM142.3,196.5h1.8v1.8h-1.8zM143.4,189.7h1.8v1.8h-1.8zM134.7,197.4h1.8v1.8h-1.8zM135.0,199.5h1.8v1.8h-1.8zM135.9,193.4h1.8v1.8h-1.8zM137.7,187.7h1.8v1.8h-1.8zM149.2,202.9h1.8v1.8h-1.8zM136.3,186.1h1.8v1.8h-1.8zM137.0,184.1h1.8v1.8h-1.8zM138.5,182.2h1.8v1.8h-1.8zM143.8,183.4h1.8v1.8h-1.8zM147.9,202.9h1.8v1.8h-1.8zM138.6,182.6h1.8v1.8h-1.8zM138.3,191.7h1.8v1.8h-1.8zM147.8,203.9h1.8v1.8h-1.8zM148.9,185.5h1.8v1.8h-1.8zM125.8,188.5h1.8v1.8h-1.8zM138.4,190.0h1.8v1.8h-1.8zM145.6,206.2h1.8v1.8h-1.8zM143.8,191.2h1.8v1.8h-1.8zM163.2,194.0h1.8v1.8h-1.8zM136.5,181.1h1.8v1.8h-1.8zM117.3,182.8h1.8v1.8h-1.8zM115.7,187.2h1.8v1.8h-1.8zM145.6,182.0h1.8v1.8h-1.8zM124.2,180.2h1.8v1.8h-1.8zM163.1,201.7h1.8v1.8h-1.8zM157.6,199.4h1.8v1.8h-1.8zM155.3,190.9h1.8v1.8h-1.8zM155.1,190.5h1.8v1.8h-1.8zM81.7,106.4h1.8v1.8h-1.8zM83.7,58.9h1.8v1.8h-1.8zM92.6,80.0h1.8v1.8h-1.8zM31.9,89.7h1.8v1.8h-1.8zM103.2,38.3h1.8v1.8h-1.8zM31.3,56.5h1.8v1.8h-1.8zM87.4,114.6h1.8v1.8h-1.8zM87.7,63.9h1.8v1.8h-1.8zM74.3,93.9h1.8v1.8h-1.8zM78.3,117.4h1.8v1.8h-1.8zM55.6,106.0h1.8v1.8h-1.8zM82.0,107.4h1.8v1.8h-1.8zM51.8,96.5h1.8v1.8h-1.8zM67.3,62.3h1.8v1.8h-1.8zM25.7,88.2h1.8v1.8h-1.8zM81.4,89.1h1.8v1.8h-1.8zM82.0,97.5h1.8v1.8h-1.8zM8.7,85.5h1.8v1.8h-1.8zM96.2,110.2h1.8v1.8h-1.8zM107.2,114.5h1.8v1.8h-1.8zM99.4,103.7h1.8v1.8h-1.8zM74.7,104.8h1.8v1.8h-1.8zM74.4,60.7h1.8v1.8h-1.8zM89.0,53.9h1.8v1.8h-1.8zM38.1,71.8h1.8v1.8h-1.8zM43.8,63.4h1.8v1.8h-1.8zM99.9,87.8h1.8v1.8h-1.8zM51.7,100.5h1.8v1.8h-1.8zM41.3,94.9h1.8v1.8h-1.8zM63.5,54.9h1.8v1.8h-1.8zM101.1,44.6h1.8v1.8h-1.8zM96.2,51.1h1.8v1.8h-1.8zM89.5,117.3h1.8v1.8h-1.8zM58.1,102.4h1.8v1.8h-1.8zM22.5,77.7h1.8v1.8h-1.8zM82.2,78.0h1.8v1.8h-1.8zM13.9,89.3h1.8v1.8h-1.8zM82.0,101.6h1.8v1.8h-1.8zM73.9,66.3h1.8v1.8h-1.8zM47.6,69.5h1.8v1.8h-1.8zM104.4,44.2h1.8v1.8h-1.8zM104.2,39.2h1.8v1.8h-1.8zM25.0,58.7h1.8v1.8h-1.8zM105.6,78.2h1.8v1.8h-1.8zM28.2,74.9h1.8v1.8h-1.8zM62.8,99.0h1.8v1.8h-1.8zM88.4,90.1h1.8v1.8h-1.8zM41.5,63.9h1.8v1.8h-1.8zM77.9,97.9h1.8v1.8h-1.8zM20.8,73.1h1.8v1.8h-1.8zM90.8,84.6h1.8v1.8h-1.8zM15.7,75.0h1.8v1.8h-1.8zM103.8,56.6h1.8v1.8h-1.8zM23.3,61.8h1.8v1.8h-1.8zM82.7,106.3h1.8v1.8h-1.8zM29.8,63.9h1.8v1.8h-1.8zM61.7,50.3h1.8v1.8h-1.8zM114.2,96.9h1.8v1.8h-1.8zM12.9,68.6h1.8v1.8h-1.8zM86.2,72.8h1.8v1.8h-1.8zM23.9,89.4h1.8v1.8h-1.8zM47.4,102.0h1.8v1.8h-1.8zM81.5,78.1h1.8v1.8h-1.8zM74.5,75.1h1.8v1.8h-1.8zM17.6,86.6h1.8v1.8h-1.8zM48.0,97.9h1.8v1.8h-1.8zM67.7,98.5h1.8v1.8h-1.8zM50.0,55.8h1.8v1.8h-1.8zM84.9,109.3h1.8v1.8h-1.8zM90.9,94.5h1.8v1.8h-1.8zM100.0,92.8h1.8v1.8h-1.8zM75.5,74.3h1.8v1.8h-1.8zM12.5,71.5h1.8v1.8h-1.8zM91.9,95.6h1.8v1.8h-1.8zM74.1,57.6h1.8v1.8h-1.8zM73.2,70.7h1.8v1.8h-1.8zM79.4,113.4h1.8v1.8h-1.8zM22.3,90.8h1.8v1.8h-1.8zM91.4,69.0h1.8v1.8h-1.8zM19.8,101.2h1.8v1.8h-1.8zM12.8,84.2h1.8v1.8h-1.8zM63.9,95.9h1.8v1.8h-1.8zM60.5,89.5h1.8v1.8h-1.8zM97.3,79.9h1.8v1.8h-1.8zM25.5,93.2h1.8v1.8h-1.8zM46.6,99.6h1.8v1.8h-1.8zM32.9,69.9h1.8v1.8h-1.8zM49.9,94.4h1.8v1.8h-1.8zM41.9,58.8h1.8v1.8h-1.8zM110.1,80.3h1.8v1.8h-1.8zM46.6,54.5h1.8v1.8h-1.8zM16.1,100.8h1.8v1.8h-1.8zM95.0,89.1h1.8v1.8h-1.8zM55.5,83.2h1.8v1.8h-1.8zM42.1,89.5h1.8v1.8h-1.8zM96.1,104.0h1.8v1.8h-1.8zM55.4,61.2h1.8v1.8h-1.8zM64.7,47.4h1.8v1.8h-1.8zM97.8,66.2h1.8v1.8h-1.8zM99.8,59.0h1.8v1.8h-1.8zM44.7,57.9h1.8v1.8h-1.8zM50.5,52.3h1.8v1.8h-1.8zM33.7,57.2h1.8v1.8h-1.8zM36.1,76.4h1.8v1.8h-1.8zM50.8,89.4h1.8v1.8h-1.8zM77.6,66.8h1.8v1.8h-1.8zM106.2,101.4h1.8v1.8h-1.8zM17.4,105.3h1.8v1.8h-1.8zM77.2,57.6h1.8v1.8h-1.8zM106.0,102.0h1.8v1.8h-1.8zM71.7,101.2h1.8v1.8h-1.8zM78.6,110.4h1.8v1.8h-1.8zM92.5,105.9h1.8v1.8h-1.8zM24.0,93.9h1.8v1.8h-1.8zM62.7,97.9h1.8v1.8h-1.8zM52.0,109.5h1.8v1.8h-1.8zM65.5,58.8h1.8v1.8h-1.8zM55.3,48.9h1.8v1.8h-1.8zM63.7,107.9h1.8v1.8h-1.8zM55.4,83.2h1.8v1.8h-1.8zM78.3,106.0h1.8v1.8h-1.8zM75.0,89.3h1.8v1.8h-1.8zM80.3,113.5h1.8v1.8h-1.8zM105.2,39.9h1.8v1.8h-1.8zM84.4,88.4h1.8v1.8h-1.8zM62.1,100.3h1.8v1.8h-1.8zM25.5,72.8h1.8v1.8h-1.8zM50.1,82.5h1.8v1.8h-1.8zM97.0,61.1h1.8v1.8h-1.8zM97.1,70.2h1.8v1.8h-1.8zM59.5,59.4h1.8v1.8h-1.8zM77.0,102.0h1.8v1.8h-1.8zM39.5,63.1h1.8v1.8h-1.8zM74.7,101.4h1.8v1.8h-1.8zM103.8,81.8h1.8v1.8h-1.8zM6.9,61.7h1.8v1.8h-1.8zM108.0,87.0h1.8v1.8h-1.8zM77.4,101.8h1.8v1.8h-1.8zM106.6,87.3h1.8v1.8h-1.8zM72.6,88.5h1.8v1.8h-1.8zM81.9,86.0h1.8v1.8h-1.8zM80.1,54.5h1.8v1.8h-1.8zM78.5,74.6h1.8v1.8h-1.8zM89.6,45.4h1.8v1.8h-1.8zM90.9,112.1h1.8v1.8h-1.8zM77.2,67.3h1.8v1.8h-1.8zM96.5,101.6h1.8v1.8h-1.8zM66.3,58.3h1.8v1.8h-1.8zM36.1,71.7h1.8v1.8h-1.8zM38.0,72.4h1.8v1.8h-1.8zM75.5,113.7h1.8v1.8h-1.8zM7.4,83.6h1.8v1.8h-1.8zM95.1,84.3h1.8v1.8h-1.8zM69.8,114.0h1.8v1.8h-1.8zM75.9,54.5h1.8v1.8h-1.8zM84.5,57.0h1.8v1.8h-1.8zM86.2,52.5h1.8v1.8h-1.8zM83.9,107.3h1.8v1.8h-1.8zM74.0,95.3h1.8v1.8h-1.8zM54.5,113.6h1.8v1.8h-1.8zM95.9,43.6h1.8v1.8h-1.8zM43.7,84.2h1.8v1.8h-1.8zM52.0,92.6h1.8v1.8h-1.8zM17.9,102.5h1.8v1.8h-1.8zM43.2,90.0h1.8v1.8h-1.8zM74.1,71.4h1.8v1.8h-1.8zM45.8,101.6h1.8v1.8h-1.8zM110.7,101.4h1.8v1.8h-1.8zM66.9,61.1h1.8v1.8h-1.8zM82.7,104.9h1.8v1.8h-1.8zM70.8,62.4h1.8v1.8h-1.8zM50.8,109.9h1.8v1.8h-1.8zM44.8,93.3h1.8v1.8h-1.8zM70.9,110.6h1.8v1.8h-1.8zM94.8,60.3h1.8v1.8h-1.8zM50.1,85.2h1.8v1.8h-1.8zM95.8,109.9h1.8v1.8h-1.8zM95.3,108.2h1.8v1.8h-1.8zM67.4,59.6h1.8v1.8h-1.8zM99.8,103.3h1.8v1.8h-1.8zM80.5,112.0h1.8v1.8h-1.8zM65.3,102.5h1.8v1.8h-1.8zM24.3,98.6h1.8v1.8h-1.8zM71.5,92.7h1.8v1.8h-1.8zM55.1,54.0h1.8v1.8h-1.8zM92.9,74.8h1.8v1.8h-1.8zM90.7,56.2h1.8v1.8h-1.8zM68.3,110.6h1.8v1.8h-1.8zM103.8,79.9h1.8v1.8h-1.8zM56.4,85.4h1.8v1.8h-1.8zM22.1,94.6h1.8v1.8h-1.8zM43.2,83.4h1.8v1.8h-1.8zM13.4,89.0h1.8v1.8h-1.8zM92.4,49.9h1.8v1.8h-1.8zM70.4,65.4h1.8v1.8h-1.8zM54.2,57.0h1.8v1.8h-1.8zM130.6,60.9h1.8v1.8h-1.8zM77.6,51.9h1.8v1.8h-1.8zM63.7,50.9h1.8v1.8h-1.8zM97.8,53.7h1.8v1.8h-1.8zM58.9,58.8h1.8v1.8h-1.8zM63.7,60.7h1.8v1.8h-1.8zM65.8,58.1h1.8v1.8h-1.8zM66.5,55.9h1.8v1.8h-1.8zM103.4,67.5h1.8v1.8h-1.8zM57.7,64.8h1.8v1.8h-1.8zM45.7,58.2h1.8v1.8h-1.8zM131.7,53.1h1.8v1.8h-1.8zM60.3,58.8h1.8v1.8h-1.8zM58.3,62.7h1.8v1.8h-1.8zM101.7,49.6h1.8v1.8h-1.8zM63.0,55.5h1.8v1.8h-1.8zM67.7,47.9h1.8v1.8h-1.8zM71.7,58.3h1.8v1.8h-1.8zM60.9,42.9h1.8v1.8h-1.8zM50.1,52.6h1.8v1.8h-1.8zM75.8,60.4h1.8v1.8h-1.8zM58.6,60.2h1.8v1.8h-1.8zM44.6,57.5h1.8v1.8h-1.8zM60.1,60.4h1.8v1.8h-1.8zM57.4,56.2h1.8v1.8h-1.8zM55.9,53.2h1.8v1.8h-1.8zM112.7,60.2h1.8v1.8h-1.8zM69.4,70.8h1.8v1.8h-1.8zM92.8,47.8h1.8v1.8h-1.8zM58.2,80.8h1.8v1.8h-1.8zM22.7,117.8h1.8v1.8h-1.8zM46.5,72.8h1.8v1.8h-1.8zM25.9,123.5h1.8v1.8h-1.8zM50.5,78.2h1.8v1.8h-1.8zM56.0,81.3h1.8v1.8h-1.8zM63.1,73.3h1.8v1.8h-1.8zM49.5,71.9h1.8v1.8h-1.8zM42.7,105.1h1.8v1.8h-1.8zM56.2,80.9h1.8v1.8h-1.8zM60.4,76.4h1.8v1.8h-1.8zM22.9,105.3h1.8v1.8h-1.8zM76.7,138.2h1.8v1.8h-1.8zM95.4,135.2h1.8v1.8h-1.8zM90.8,126.4h1.8v1.8h-1.8zM76.7,128.3h1.8v1.8h-1.8zM82.9,128.7h1.8v1.8h-1.8zM88.3,127.9h1.8v1.8h-1.8zM85.3,132.5h1.8v1.8h-1.8zM84.1,143.8h1.8v1.8h-1.8zM86.8,129.8h1.8v1.8h-1.8zM82.9,124.1h1.8v1.8h-1.8zM92.2,130.3h1.8v1.8h-1.8zM77.6,124.6h1.8v1.8h-1.8zM83.3,125.5h1.8v1.8h-1.8zM90.6,119.8h1.8v1.8h-1.8zM87.1,130.2h1.8v1.8h-1.8zM77.0,129.5h1.8v1.8h-1.8zM83.5,133.1h1.8v1.8h-1.8zM81.4,131.5h1.8v1.8h-1.8zM74.1,120.4h1.8v1.8h-1.8zM88.8,137.4h1.8v1.8h-1.8zM84.0,124.3h1.8v1.8h-1.8zM90.6,112.4h1.8v1.8h-1.8zM79.3,134.5h1.8v1.8h-1.8zM88.0,120.8h1.8v1.8h-1.8zM72.8,140.7h1.8v1.8h-1.8zM54.0,141.7h1.8v1.8h-1.8zM53.4,152.5h1.8v1.8h-1.8zM57.5,134.6h1.8v1.8h-1.8zM57.7,136.4h1.8v1.8h-1.8zM59.9,149.5h1.8v1.8h-1.8zM66.6,143.4h1.8v1.8h-1.8zM53.1,153.4h1.8v1.8h-1.8zM49.3,142.9h1.8v1.8h-1.8zM50.9,146.7h1.8v1.8h-1.8zM46.6,150.0h1.8v1.8h-1.8zM56.4,147.5h1.8v1.8h-1.8zM63.3,145.1h1.8v1.8h-1.8zM60.9,143.8h1.8v1.8h-1.8zM57.6,135.5h1.8v1.8h-1.8zM54.3,146.0h1.8v1.8h-1.8zM50.1,143.4h1.8v1.8h-1.8zM51.0,142.8h1.8v1.8h-1.8zM39.9,143.5h1.8v1.8h-1.8zM80.9,155.0h1.8v1.8h-1.8zM78.9,156.6h1.8v1.8h-1.8zM86.2,156.1h1.8v1.8h-1.8zM87.0,160.8h1.8v1.8h-1.8zM87.7,155.8h1.8v1.8h-1.8zM82.6,161.6h1.8v1.8h-1.8zM80.9,156.6h1.8v1.8h-1.8zM84.6,158.6h1.8v1.8h-1.8zM82.0,161.0h1.8v1.8h-1.8zM82.4,160.0h1.8v1.8h-1.8zM150.4,50.4h1.8v1.8h-1.8zM149.0,41.3h1.8v1.8h-1.8zM140.9,44.0h1.8v1.8h-1.8zM148.0,54.6h1.8v1.8h-1.8zM141.2,48.6h1.8v1.8h-1.8zM142.7,43.4h1.8v1.8h-1.8zM145.0,50.6h1.8v1.8h-1.8zM147.0,53.0h1.8v1.8h-1.8zM142.2,51.5h1.8v1.8h-1.8zM149.8,47.4h1.8v1.8h-1.8zM148.0,44.3h1.8v1.8h-1.8zM141.7,45.1h1.8v1.8h-1.8zM143.5,61.6h1.8v1.8h-1.8zM144.2,55.4h1.8v1.8h-1.8zM146.9,48.7h1.8v1.8h-1.8zM149.1,43.2h1.8v1.8h-1.8zM149.8,49.0h1.8v1.8h-1.8zM140.0,50.1h1.8v1.8h-1.8zM111.3,126.4h1.8v1.8h-1.8zM115.4,122.0h1.8v1.8h-1.8zM111.1,127.8h1.8v1.8h-1.8zM105.5,130.1h1.8v1.8h-1.8zM103.3,117.6h1.8v1.8h-1.8zM111.2,118.7h1.8v1.8h-1.8zM108.6,115.9h1.8v1.8h-1.8zM109.4,118.4h1.8v1.8h-1.8zM133.0,76.1h1.8v1.8h-1.8zM142.6,80.3h1.8v1.8h-1.8zM139.4,82.5h1.8v1.8h-1.8zM148.0,78.0h1.8v1.8h-1.8zM146.8,88.9h1.8v1.8h-1.8zM121.2,92.1h1.8v1.8h-1.8zM136.2,91.4h1.8v1.8h-1.8zM166.6,85.1h1.8v1.8h-1.8zM165.0,89.8h1.8v1.8h-1.8zM174.5,92.1h1.8v1.8h-1.8zM182.5,84.1h1.8v1.8h-1.8zM177.7,96.2h1.8v1.8h-1.8zM189.5,95.3h1.8v1.8h-1.8zM204.9,99.4h1.8v1.8h-1.8zM209.6,107.4h1.8v1.8h-1.8zM193.7,108.0h1.8v1.8h-1.8zM187.3,104.2h1.8v1.8h-1.8zM169.7,101.0h1.8v1.8h-1.8zM152.2,101.0h1.8v1.8h-1.8zM149.0,106.8h1.8v1.8h-1.8zM137.8,109.0h1.8v1.8h-1.8zM135.3,112.2h1.8v1.8h-1.8zM126.7,113.8h1.8v1.8h-1.8zM125.1,117.0h1.8v1.8h-1.8zM137.2,117.0h1.8v1.8h-1.8zM163.4,110.6h1.8v1.8h-1.8zM168.1,118.6h1.8v1.8h-1.8zM152.2,131.3h1.8v1.8h-1.8zM153.8,136.1h1.8v1.8h-1.8zM160.2,137.7h1.8v1.8h-1.8zM123.5,142.5h1.8v1.8h-1.8zM118.7,110.6h1.8v1.8h-1.8zM112.3,126.6h1.8v1.8h-1.8zM152.9,131.7h1.8v1.8h-1.8zM154.5,135.5h1.8v1.8h-1.8zM165.1,135.5h1.8v1.8h-1.8zM124.2,141.9h1.8v1.8h-1.8zM106.7,148.9h1.8v1.8h-1.8zM130.6,150.8h1.8v1.8h-1.8zM137.0,152.1h1.8v1.8h-1.8zM111.4,160.4h1.8v1.8h-1.8zM121.0,166.8h1.8v1.8h-1.8zM122.6,172.2h1.8v1.8h-1.8zM140.2,170.0h1.8v1.8h-1.8zM162.5,170.6h1.8v1.8h-1.8zM167.3,178.6h1.8v1.8h-1.8zM173.7,177.0h1.8v1.8h-1.8zM160.9,185.9h1.8v1.8h-1.8zM175.3,186.6h1.8v1.8h-1.8zM165.7,194.5h1.8v1.8h-1.8zM160.9,203.2h1.8v1.8h-1.8zM29.4,123.9h1.8v1.8h-1.8zM39.0,126.1h1.8v1.8h-1.8zM51.8,127.1h1.8v1.8h-1.8zM58.1,131.9h1.8v1.8h-1.8zM64.5,128.7h1.8v1.8h-1.8zM29.4,143.0h1.8v1.8h-1.8zM67.7,143.0h1.8v1.8h-1.8zM72.5,146.2h1.8v1.8h-1.8zM106.0,149.4h1.8v1.8h-1.8zM107.6,159.0h1.8v1.8h-1.8zM150.9,54.9h1.8v1.8h-1.8zM150.0,59.3h1.8v1.8h-1.8zM141.2,63.7h1.8v1.8h-1.8zM137.7,66.3h1.8v1.8h-1.8zM144.7,68.0h1.8v1.8h-1.8zM132.4,75.9h1.8v1.8h-1.8zM146.5,78.6h1.8v1.8h-1.8zM156.1,77.7h1.8v1.8h-1.8zM166.6,75.1h1.8v1.8h-1.8zM136.8,80.3h1.8v1.8h-1.8zM143.0,81.2h1.8v1.8h-1.8zM111.4,54.9h1.8v1.8h-1.8zM107.0,56.6h1.8v1.8h-1.8zM168.0,14.9h1.8v1.8h-1.8zM169.8,18.4h1.8v1.8h-1.8zM163.7,21.6h1.8v1.8h-1.8zM168.0,29.8h1.8v1.8h-1.8zM158.4,35.9h1.8v1.8h-1.8zM178.6,32.4h1.8v1.8h-1.8zM189.1,25.1h1.8v1.8h-1.8zM25.8,119.7h1.8v1.8h-1.8zM28.4,123.2h1.8v1.8h-1.8zM38.0,126.3h1.8v1.8h-1.8zM52.1,127.0h1.8v1.8h-1.8zM58.2,131.1h1.8v1.8h-1.8zM53.8,132.8h1.8v1.8h-1.8zM64.4,128.4h1.8v1.8h-1.8z" fill="#050505"/>
<path d="M256.9,14.2 L263.2,30.4 L256.9,25.6 L251.2,30.4 Z" fill="#000"/>
<path d="M227.1,44 H286.3" stroke="#333" stroke-width="0.6" fill="none"/>
<path d="M227.1,41.4 V46.5" stroke="#333" stroke-width="0.6"/>
<path d="M234.5,41.4 V46.5" stroke="#333" stroke-width="0.6"/>
<path d="M241.9,41.4 V46.5" stroke="#333" stroke-width="0.6"/>
<path d="M249.3,41.4 V46.5" stroke="#333" stroke-width="0.6"/>
<path d="M256.7,41.4 V46.5" stroke="#333" stroke-width="0.6"/>
<path d="M264.1,41.4 V46.5" stroke="#333" stroke-width="0.6"/>
<path d="M271.5,41.4 V46.5" stroke="#333" stroke-width="0.6"/>
<path d="M278.9,41.4 V46.5" stroke="#333" stroke-width="0.6"/>
<path d="M286.3,41.4 V46.5" stroke="#333" stroke-width="0.6"/>
<circle cx="233" cy="91" r="0.9" fill="#000"/>
<path d="M226,100.7 H240.3" stroke="#aaa" stroke-width="0.5"/>
<path d="M226,110.2 H240.3" stroke="#444" stroke-width="1"/>
<rect x="226" y="130.4" width="8.9" height="5.2" fill="#1a9641"/>
<rect x="226" y="138.8" width="8.9" height="5.2" fill="#a6d96a"/>
<rect x="226" y="147.1" width="8.9" height="5.2" fill="#ffffc0"/>
<rect x="226" y="155.5" width="8.9" height="5.2" fill="#fdae61"/>
<rect x="226" y="163.8" width="8.9" height="5.2" fill="#d7191c"/>
<path d="M379,2.7 V152.5" stroke="#222" stroke-width="1" fill="none"/>
<path d="M378.5,152.5 H684.5" stroke="#222" stroke-width="1" fill="none"/>
<path d="M375.6,152.50 H379" stroke="#222" stroke-width="0.9"/>
<path d="M375.6,135.92 H379" stroke="#222" stroke-width="0.9"/>
<path d="M375.6,119.33 H379" stroke="#222" stroke-width="0.9"/>
<path d="M375.6,102.75 H379" stroke="#222" stroke-width="0.9"/>
<path d="M375.6,86.16 H379" stroke="#222" stroke-width="0.9"/>
<path d="M375.6,69.58 H379" stroke="#222" stroke-width="0.9"/>
<path d="M375.6,53.00 H379" stroke="#222" stroke-width="0.9"/>
<path d="M375.6,36.41 H379" stroke="#222" stroke-width="0.9"/>
<path d="M375.6,19.83 H379" stroke="#222" stroke-width="0.9"/>
<path d="M375.6,3.24 H379" stroke="#222" stroke-width="0.9"/>
<rect x="384.58" y="147.02" width="5.8" height="5.48" fill="#0a0a0a"/>
<rect x="401.53" y="87.32" width="5.8" height="65.18" fill="#0a0a0a"/>
<rect x="418.48" y="147.02" width="5.8" height="5.48" fill="#0a0a0a"/>
<rect x="435.43" y="109.71" width="5.8" height="42.79" fill="#0a0a0a"/>
<rect x="452.38" y="142.88" width="5.8" height="9.62" fill="#0a0a0a"/>
<rect x="469.33" y="94.79" width="5.8" height="57.71" fill="#0a0a0a"/>
<rect x="486.28" y="88.15" width="5.8" height="64.35" fill="#0a0a0a"/>
<rect x="503.23" y="142.88" width="5.8" height="9.62" fill="#0a0a0a"/>
<rect x="520.18" y="127.12" width="5.8" height="25.38" fill="#0a0a0a"/>
<rect x="537.12" y="10.21" width="5.8" height="142.29" fill="#0a0a0a"/>
<rect x="554.08" y="120.49" width="5.8" height="32.01" fill="#0a0a0a"/>
<rect x="571.02" y="76.54" width="5.8" height="75.96" fill="#0a0a0a"/>
<rect x="587.98" y="132.10" width="5.8" height="20.40" fill="#0a0a0a"/>
<rect x="604.93" y="133.76" width="5.8" height="18.74" fill="#0a0a0a"/>
<rect x="621.88" y="138.73" width="5.8" height="13.77" fill="#0a0a0a"/>
<rect x="638.82" y="71.57" width="5.8" height="80.93" fill="#0a0a0a"/>
<rect x="655.77" y="47.52" width="5.8" height="104.98" fill="#0a0a0a"/>
<rect x="672.73" y="77.79" width="5.8" height="74.71" fill="#0a0a0a"/>
<path d="M395.95,152.5 V156.0" stroke="#222" stroke-width="0.9"/>
<path d="M412.90,152.5 V156.0" stroke="#222" stroke-width="0.9"/>
<path d="M429.85,152.5 V156.0" stroke="#222" stroke-width="0.9"/>
<path d="M446.80,152.5 V156.0" stroke="#222" stroke-width="0.9"/>
<path d="M463.75,152.5 V156.0" stroke="#222" stroke-width="0.9"/>
<path d="M480.70,152.5 V156.0" stroke="#222" stroke-width="0.9"/>
<path d="M497.65,152.5 V156.0" stroke="#222" stroke-width="0.9"/>
<path d="M514.60,152.5 V156.0" stroke="#222" stroke-width="0.9"/>
<path d="M531.55,152.5 V156.0" stroke="#222" stroke-width="0.9"/>
<path d="M548.50,152.5 V156.0" stroke="#222" stroke-width="0.9"/>
<path d="M565.45,152.5 V156.0" stroke="#222" stroke-width="0.9"/>
<path d="M582.40,152.5 V156.0" stroke="#222" stroke-width="0.9"/>
<path d="M599.35,152.5 V156.0" stroke="#222" stroke-width="0.9"/>
<path d="M616.30,152.5 V156.0" stroke="#222" stroke-width="0.9"/>
<path d="M633.25,152.5 V156.0" stroke="#222" stroke-width="0.9"/>
<path d="M650.20,152.5 V156.0" stroke="#222" stroke-width="0.9"/>
<path d="M667.15,152.5 V156.0" stroke="#222" stroke-width="0.9"/>
<path d="M684.10,152.5 V156.0" stroke="#222" stroke-width="0.9"/>
</svg>
<div class="t" style="left:254.4px;top:7.2px;font-size:6.6px;">N</div>
<div class="t" style="left:225.5px;top:32.1px;font-size:7.35px;">0</div>
<div class="t" style="left:238.5px;top:32.1px;font-size:7.35px;">40</div>
<div class="t" style="left:253.0px;top:32.1px;font-size:7.35px;">80</div>
<div class="t" style="left:281px;top:32.1px;font-size:7.35px;">160 Kilometers</div>
<div class="t" style="left:226px;top:79.2px;font-size:7.3px;font-weight:bold">Legend</div>
<div class="t" style="left:243.7px;top:87.9px;font-size:7.3px;">Traditional villages</div>
<div class="t" style="left:243.7px;top:97.2px;font-size:7.3px;">City or state boundary</div>
<div class="t" style="left:243.7px;top:107px;font-size:7.3px;">Provincial boundary</div>
<div class="t" style="left:226px;top:115.8px;font-size:5.35px;">Kernel density</div>
<div class="t" style="left:226px;top:121.5px;font-size:5.35px;">Value</div>
<div class="t" style="left:237.6px;top:130.5px;font-size:5.3px;">0.00-43.24</div>
<div class="t" style="left:237.6px;top:138.86px;font-size:5.3px;">43.25-115.32</div>
<div class="t" style="left:237.6px;top:147.22px;font-size:5.3px;">115.33-250.81</div>
<div class="t" style="left:237.6px;top:155.57999999999998px;font-size:5.3px;">250.82-464.15</div>
<div class="t" style="left:237.6px;top:163.94px;font-size:5.3px;">464.16-735.14</div>
<div class="t" style="left:132.3px;top:233.1px;font-size:15px;font-weight:bold;color:#111">(a)</div>
<div class="t" style="left:531.7px;top:230.6px;font-size:15px;font-weight:bold;color:#111">(b)</div>
<div class="t" style="left:511.6px;top:213.5px;font-size:9.3px;">City Name</div>
<div class="t" style="left:351.6px;top:76.8px;font-size:9.2px;transform:translate(-50%,-50%) rotate(-90deg)">Number of traditional village (unit)</div>
<div class="yl" style="top:149.5px">0</div>
<div class="yl" style="top:132.9px">20</div>
<div class="yl" style="top:116.3px">40</div>
<div class="yl" style="top:99.7px">60</div>
<div class="yl" style="top:83.2px">80</div>
<div class="yl" style="top:66.6px">100</div>
<div class="yl" style="top:50.0px">120</div>
<div class="yl" style="top:33.4px">140</div>
<div class="yl" style="top:16.8px">160</div>
<div class="yl" style="top:0.2px">180</div>
<div class="cl" style="right:296.8px;top:160.5px">Ji Yuan</div>
<div class="cl" style="right:280.2px;top:160.5px">He Bi</div>
<div class="cl" style="right:263.4px;top:160.5px">Luo He</div>
<div class="cl" style="right:246.1px;top:160.5px">Jiao Zuo</div>
<div class="cl" style="right:228.1px;top:160.5px">Pu Yang</div>
<div class="cl" style="right:210.3px;top:160.5px">Xu Chang</div>
<div class="cl" style="right:193.4px;top:160.5px">An Yang</div>
<div class="cl" style="right:176.2px;top:160.5px">Kai Feng</div>
<div class="cl" style="right:158.9px;top:160.5px">Zheng Zhou</div>
<div class="cl" style="right:141.5px;top:160.5px">Ping Ding Shan</div>
<div class="cl" style="right:125.1px;top:160.5px">Xin Xiang</div>
<div class="cl" style="right:108.4px;top:160.5px">San Men Xia</div>
<div class="cl" style="right:91.6px;top:160.5px">Shang Qu</div>
<div class="cl" style="right:74.5px;top:160.5px">Zhou Kou</div>
<div class="cl" style="right:57.1px;top:160.5px">Zhu Ma Dian</div>
<div class="cl" style="right:40.5px;top:160.5px">Luo Yang</div>
<div class="cl" style="right:24.0px;top:160.5px">Xin Yang</div>
<div class="cl" style="right:6.8px;top:160.5px">Nan Yang</div>
</div></body></html>
